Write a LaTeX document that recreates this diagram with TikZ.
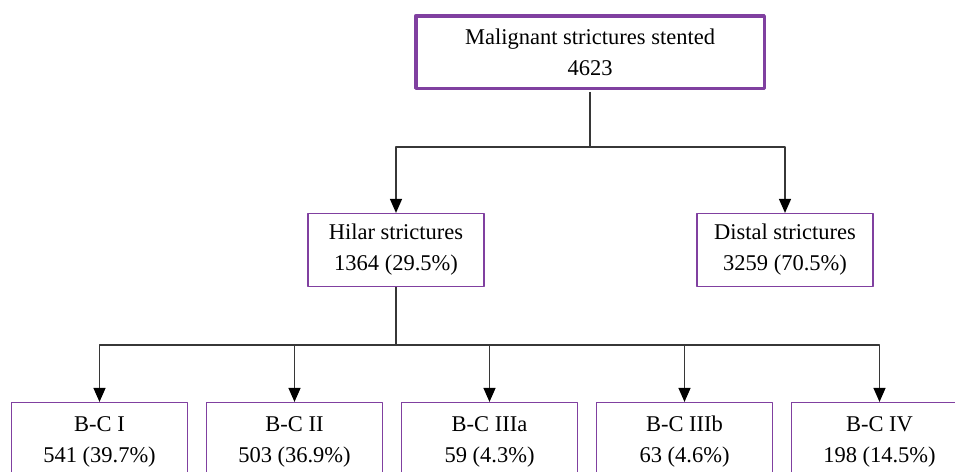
\documentclass[tikz,border=0pt]{standalone}
\usepackage{fontspec}
\setmainfont{Liberation Serif}
\usetikzlibrary{arrows.meta}
\definecolor{boxpurple}{RGB}{128,64,160}
\definecolor{linegray}{RGB}{55,55,55}
\begin{document}
\begin{tikzpicture}[x=1pt,y=-1pt,font=\fontsize{22.5}{31}\selectfont,line join=round,
	>={Triangle[length=14pt,width=12pt,color=black]},
	stbox/.style={draw=boxpurple,line width=1.2pt,minimum width=176pt,minimum height=73pt,align=center,inner sep=0pt},
	topbox/.style={stbox,line width=3.5pt,minimum width=348.5pt,minimum height=72.5pt},
	conn/.style={draw=linegray,line width=1.3pt}]
	\useasboundingbox (0,0) rectangle (955,471);
	\node[topbox] (top) at (590,52) {Malignant strictures stented\\4623};
	\node[stbox] (hilar) at (396,250) {Hilar strictures\\1364 (29.5\%)};
	\node[stbox] (distal) at (785,250) {Distal strictures\\3259 (70.5\%)};
	\foreach \name/\lab/\val [count=\i from 0] in {bci/B-C I/541 (39.7\%),bcii/B-C II/503 (36.9\%),bciiia/B-C IIIa/59 (4.3\%),bciiib/B-C IIIb/63 (4.6\%),bciv/B-C IV/198 (14.5\%)}
	\node[stbox,minimum height=79pt] (\name) at (99.5+195*\i,442) {\lab\\\val};
	% top level split
	\draw[conn,shorten <=1.75pt] (top.south) -- (590,147) coordinate (split);
	\draw[conn,->] (split) -| (hilar.north);
	\draw[conn,->] (split) -| (distal.north);
	% hilar split
	\draw[conn] (hilar.south) -- (396,345) coordinate (hsplit);
	\foreach \name in {bci,bcii,bciiia,bciiib,bciv}
	\draw[conn,->] (hsplit) -| (\name.north);
\end{tikzpicture}
\end{document}
